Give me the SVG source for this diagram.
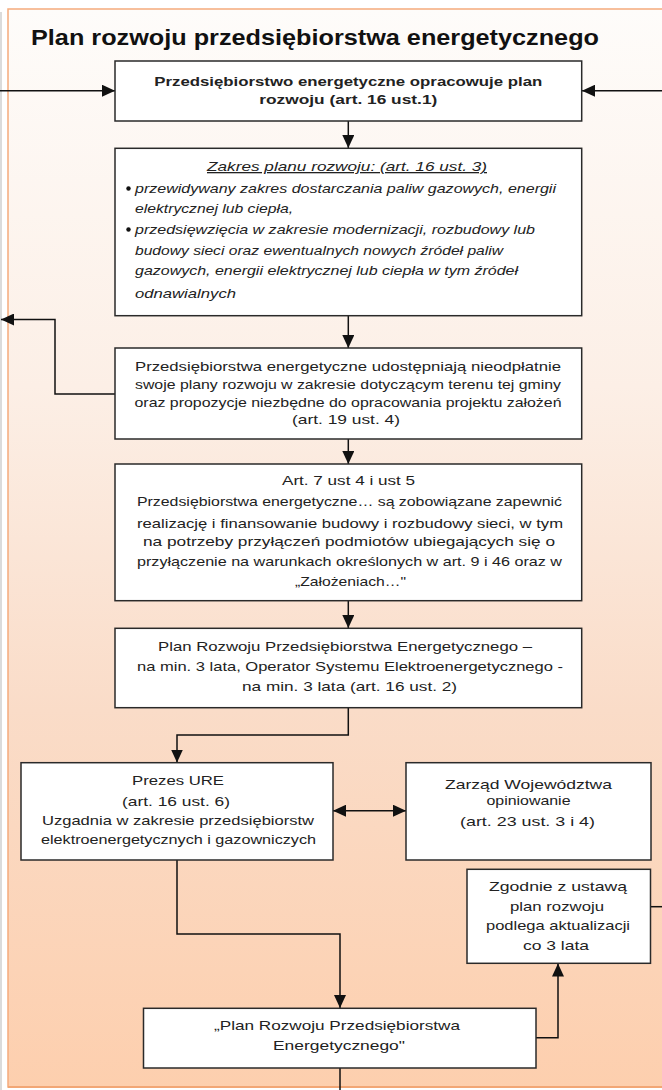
<svg xmlns="http://www.w3.org/2000/svg" width="662" height="1090" viewBox="0 0 662 1090">
<style>
.box{fill:#ffffff;stroke:#2a2a2a;stroke-width:1.5}
.t{font-family:"Liberation Sans",Arial,sans-serif;font-size:13px;fill:#222;text-anchor:middle}
.b{font-weight:bold}
.i{font-style:italic;text-anchor:start}
.c{fill:none;stroke:#111;stroke-width:1.5}
.title{font-family:"Liberation Sans",Arial,sans-serif;font-size:21.5px;font-weight:bold;fill:#111}
</style>
<defs>
<linearGradient id="bg" x1="0" y1="0" x2="0" y2="1">
<stop offset="0" stop-color="#fefcfa"/>
<stop offset="0.35" stop-color="#fcefe6"/>
<stop offset="0.65" stop-color="#fadcc8"/>
<stop offset="1" stop-color="#fdcfae"/>
</linearGradient>
<marker id="ah" markerUnits="userSpaceOnUse" markerWidth="13" markerHeight="12" refX="13" refY="6" orient="auto-start-reverse">
<path d="M0,0 L13,6 L0,12 z" fill="#111"/>
</marker>
</defs>
<rect x="0" y="0" width="662" height="1090" fill="#ffffff"/>
<line x1="1" y1="12" x2="1" y2="1090" stroke="#cfcfcf" stroke-width="1.5"/>
<rect x="8" y="9" width="670" height="1078" fill="url(#bg)" stroke="#f5ab7c" stroke-width="1.5"/>
<line x1="8" y1="1087" x2="662" y2="1087" stroke="#f2a675" stroke-width="2"/>
<text class="title" x="31" y="45" textLength="568" lengthAdjust="spacingAndGlyphs">Plan rozwoju przedsiębiorstwa energetycznego</text>

<g id="connectors">
<path class="c" d="M0,90.7 H115" marker-end="url(#ah)"/>
<path class="c" d="M662,90.7 H582" marker-end="url(#ah)"/>
<path class="c" d="M348.3,121 V148" marker-end="url(#ah)"/>
<path class="c" d="M348.3,316 V348" marker-end="url(#ah)"/>
<path class="c" d="M115,394 H55 V319.5 H1" marker-end="url(#ah)"/>
<path class="c" d="M348.3,439 V464" marker-end="url(#ah)"/>
<path class="c" d="M348.3,601 V628" marker-end="url(#ah)"/>
<path class="c" d="M348.3,708 V735 H177 V762.5" marker-end="url(#ah)"/>
<path class="c" d="M333,810.7 H406" marker-start="url(#ah)" marker-end="url(#ah)"/>
<path class="c" d="M177,860 V934 H340 V1008" marker-end="url(#ah)"/>
<path class="c" d="M536,1037.7 H558 V963.5" marker-end="url(#ah)"/>
<path class="c" d="M650,906.7 H662"/>
<path class="c" d="M340,1068 V1090"/>
</g>

<g id="n1">
<rect class="box" x="115" y="61" width="466.7" height="60"/>
<text class="t b" x="348.3" y="86" textLength="388" lengthAdjust="spacingAndGlyphs">Przedsiębiorstwo energetyczne opracowuje plan</text>
<text class="t b" x="348.3" y="104" textLength="178" lengthAdjust="spacingAndGlyphs">rozwoju (art. 16 ust.1)</text>
</g>

<g id="n2">
<rect class="box" x="115" y="148.3" width="466.7" height="167.4"/>
<text class="t" x="347" y="171" font-style="italic" text-decoration="underline" textLength="280" lengthAdjust="spacingAndGlyphs">Zakres planu rozwoju: (art. 16 ust. 3)</text>
<circle cx="128.5" cy="188.5" r="2.2" fill="#111"/>
<circle cx="128.5" cy="229.5" r="2.2" fill="#111"/>
<text class="t i" x="135" y="192.5" textLength="421" lengthAdjust="spacingAndGlyphs">przewidywany zakres dostarczania paliw gazowych, energii</text>
<text class="t i" x="135" y="212.5" textLength="158" lengthAdjust="spacingAndGlyphs">elektrycznej lub ciepła,</text>
<text class="t i" x="135" y="233.5" textLength="400" lengthAdjust="spacingAndGlyphs">przedsięwzięcia w zakresie modernizacji, rozbudowy lub</text>
<text class="t i" x="135" y="254.5" textLength="368" lengthAdjust="spacingAndGlyphs">budowy sieci oraz ewentualnych nowych źródeł paliw</text>
<text class="t i" x="135" y="274.5" textLength="383" lengthAdjust="spacingAndGlyphs">gazowych, energii elektrycznej lub ciepła w tym źródeł</text>
<text class="t i" x="135" y="297.5" textLength="101" lengthAdjust="spacingAndGlyphs">odnawialnych</text>
</g>

<g id="n3">
<rect class="box" x="115" y="348" width="466.7" height="91"/>
<text class="t" x="348" y="371" textLength="426" lengthAdjust="spacingAndGlyphs">Przedsiębiorstwa energetyczne udostępniają nieodpłatnie</text>
<text class="t" x="348" y="389" textLength="426" lengthAdjust="spacingAndGlyphs">swoje plany rozwoju w zakresie dotyczącym terenu tej gminy</text>
<text class="t" x="348" y="406.5" textLength="427" lengthAdjust="spacingAndGlyphs">oraz propozycje niezbędne do opracowania projektu założeń</text>
<text class="t" x="346" y="424" textLength="108" lengthAdjust="spacingAndGlyphs">(art. 19 ust. 4)</text>
</g>

<g id="n4">
<rect class="box" x="115" y="464" width="466.7" height="136.7"/>
<text class="t" x="348.5" y="484.5" textLength="133" lengthAdjust="spacingAndGlyphs">Art. 7 ust 4 i ust 5</text>
<text class="t" x="349.5" y="506" textLength="425" lengthAdjust="spacingAndGlyphs">Przedsiębiorstwa energetyczne… są zobowiązane zapewnić</text>
<text class="t" x="350" y="527.5" textLength="426" lengthAdjust="spacingAndGlyphs">realizację i finansowanie budowy i rozbudowy sieci, w tym</text>
<text class="t" x="349" y="546" textLength="412" lengthAdjust="spacingAndGlyphs">na potrzeby przyłączeń podmiotów ubiegających się o</text>
<text class="t" x="349.5" y="566" textLength="425" lengthAdjust="spacingAndGlyphs">przyłączenie na warunkach określonych w art. 9 i 46 oraz w</text>
<text class="t" x="350.5" y="586" textLength="111" lengthAdjust="spacingAndGlyphs">„Założeniach…"</text>
</g>

<g id="n5">
<rect class="box" x="115" y="628.3" width="466.7" height="79.4"/>
<text class="t" x="345" y="651" textLength="374" lengthAdjust="spacingAndGlyphs">Plan Rozwoju Przedsiębiorstwa Energetycznego –</text>
<text class="t" x="350" y="671" textLength="426" lengthAdjust="spacingAndGlyphs">na min. 3 lata, Operator Systemu Elektroenergetycznego -</text>
<text class="t" x="349.5" y="691" textLength="215" lengthAdjust="spacingAndGlyphs">na min. 3 lata (art. 16 ust. 2)</text>
</g>

<g id="n6">
<rect class="box" x="21" y="762.7" width="312" height="97.3"/>
<text class="t" x="178" y="785" textLength="92" lengthAdjust="spacingAndGlyphs">Prezes URE</text>
<text class="t" x="176" y="805.5" textLength="108" lengthAdjust="spacingAndGlyphs">(art. 16 ust. 6)</text>
<text class="t" x="178" y="825" textLength="272" lengthAdjust="spacingAndGlyphs">Uzgadnia w zakresie przedsiębiorstw</text>
<text class="t" x="178.5" y="843.5" textLength="275" lengthAdjust="spacingAndGlyphs">elektroenergetycznych i gazowniczych</text>
</g>

<g id="n7">
<rect class="box" x="406" y="762.7" width="245" height="97.3"/>
<text class="t" x="528.5" y="788.5" textLength="167" lengthAdjust="spacingAndGlyphs">Zarząd Województwa</text>
<text class="t" x="528.5" y="805" textLength="84" lengthAdjust="spacingAndGlyphs">opiniowanie</text>
<text class="t" x="527.5" y="826" textLength="135" lengthAdjust="spacingAndGlyphs">(art. 23 ust. 3 i 4)</text>
</g>

<g id="n8">
<rect class="box" x="467" y="869.3" width="183.5" height="94"/>
<text class="t" x="558" y="891" textLength="138" lengthAdjust="spacingAndGlyphs">Zgodnie z ustawą</text>
<text class="t" x="557" y="911" textLength="94" lengthAdjust="spacingAndGlyphs">plan rozwoju</text>
<text class="t" x="558" y="929.5" textLength="144" lengthAdjust="spacingAndGlyphs">podlega aktualizacji</text>
<text class="t" x="556" y="949.5" textLength="66" lengthAdjust="spacingAndGlyphs">co 3 lata</text>
</g>

<g id="n9">
<rect class="box" x="143.5" y="1008.3" width="392.5" height="59.7"/>
<text class="t" x="337" y="1030" textLength="246" lengthAdjust="spacingAndGlyphs">„Plan Rozwoju Przedsiębiorstwa</text>
<text class="t" x="339" y="1049.5" textLength="132" lengthAdjust="spacingAndGlyphs">Energetycznego"</text>
</g>
</svg>
